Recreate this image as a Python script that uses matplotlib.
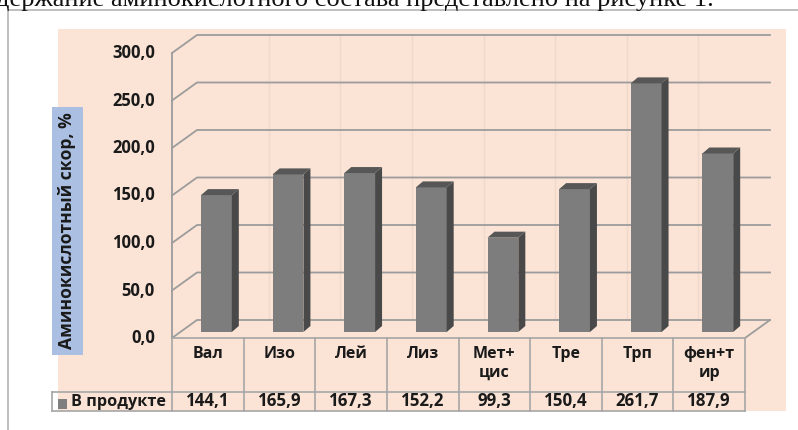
import numpy as np
import matplotlib
matplotlib.use('Agg')
import matplotlib.pyplot as plt
from matplotlib.patches import Rectangle, Polygon

# Data
categories = ['Вал', 'Изо', 'Лей', 'Лиз', 'Мет+\nцис', 'Тре', 'Трп', 'фен+т\nир']
values = [144.1, 165.9, 167.3, 152.2, 99.3, 150.4, 261.7, 187.9]
value_labels = ['144,1', '165,9', '167,3', '152,2', '99,3', '150,4', '261,7', '187,9']
series_name = 'В продукте'
y_ticks = [0, 50, 100, 150, 200, 250, 300]
y_label = 'Аминокислотный скор, %'
top_text = 'держание аминокислотного состава представлено на рисунке 1.'

W, H = 798, 430
fig = plt.figure(figsize=(W / 100, H / 100), dpi=100)

# background layer in pixel coordinates
bg = fig.add_axes([0, 0, 1, 1])
bg.set_xlim(0, W)
bg.set_ylim(H, 0)
bg.axis('off')
bg.plot([8, W], [10, 10], color='#b4b4b4', lw=1.2)
bg.plot([8, 8], [10, H], color='#b4b4b4', lw=1.2)
bg.add_patch(Rectangle((58, 29), 728, 382, facecolor='#fbe4d6', edgecolor='none'))
bg.add_patch(Rectangle((52, 107), 31, 248, facecolor='#aabfe2', edgecolor='none'))
bg.text(67, 231, y_label, rotation=90, ha='center', va='center',
        fontsize=12.6, fontweight='bold', family='Open Sans', color='#1a1a1a')
bg.text(-4, 6, top_text, ha='left', va='baseline', fontsize=19,
        family='Liberation Serif', color='#111111')

# chart axes = front plane of the 3D plot
x0, x1, yb, yt = 172, 745, 338, 53
ax = fig.add_axes([x0 / W, (H - yb) / H, (x1 - x0) / W, (yb - yt) / H])
n = len(categories)
ax.set_xlim(0, n)
ax.set_ylim(0, 300)
ax.axis('off')

px_x = (x1 - x0) / n          # pixels per category
px_y = (yb - yt) / 300        # pixels per unit
DX = 25 / px_x                 # wall depth in data units
DY = 18 / px_y
grid_c = '#9c9c9c'

# walls / gridlines
for t in y_ticks:
    ax.plot([0, DX, n + DX], [t, t + DY, t + DY], color=grid_c, lw=1.3,
            clip_on=False, zorder=1)
    ax.text(-0.24, t, f'{t:.1f}'.replace('.', ','), ha='right', va='center',
            fontsize=12, fontweight='bold', family='Open Sans', color='#1a1a1a')
ax.plot([0, 0], [0, 300], color=grid_c, lw=1.3, clip_on=False, zorder=1)
ax.plot([n, n + DX], [0, DY], color=grid_c, lw=1.3, clip_on=False, zorder=1)
for i in range(1, n):
    ax.plot([i + DX, i + DX], [DY, 300 + DY], color='#f0d8ca', lw=1,
            clip_on=False, zorder=0.5)

# 3D bars
bw = 0.43
shift = 0.12
base = DY / 3
bdx = 7 / px_x
bdy = 6 / px_y
xc = np.arange(n) + 0.5 + shift
ax.bar(xc, values, width=bw, bottom=base, color='#7d7d7d', edgecolor='none',
       zorder=3, clip_on=False)
for c, v in zip(xc, values):
    l, r, top = c - bw / 2, c + bw / 2, base + v
    ax.add_patch(Polygon([(r, base), (r + bdx, base + bdy), (r + bdx, top + bdy), (r, top)],
                         closed=True, facecolor='#494949', edgecolor='none',
                         zorder=3, clip_on=False))
    ax.add_patch(Polygon([(l, top), (l + bdx, top + bdy), (r + bdx, top + bdy), (r, top)],
                         closed=True, facecolor='#575757', edgecolor='none',
                         zorder=3, clip_on=False))

# data table below the plot
r1 = -(392 - yb) / px_y
r2 = -(411 - yb) / px_y
leg_l = -(x0 - 52) / px_x
tc = '#a6a6a6'
ax.plot([0, n], [0, 0], color=tc, lw=1.2, clip_on=False)
ax.plot([leg_l, n], [r1, r1], color=tc, lw=1.2, clip_on=False)
ax.plot([leg_l, n], [r2, r2], color=tc, lw=1.2, clip_on=False)
ax.plot([leg_l, leg_l], [r1, r2], color=tc, lw=1.2, clip_on=False)
for i in range(n + 1):
    ax.plot([i, i], [0, r2], color=tc, lw=1.2, clip_on=False)
for i, (cat, lab) in enumerate(zip(categories, value_labels)):
    ax.text(i + 0.5, -(346 - yb) / px_y, cat, ha='center', va='top',
            fontsize=11.5, fontweight='bold', family='Open Sans', color='#1a1a1a',
            linespacing=1.25)
    ax.text(i + 0.5, (r1 + r2) / 2, lab, ha='center', va='center',
            fontsize=12.2, fontweight='bold', family='Open Sans', color='#1a1a1a')
ax.add_patch(Rectangle((-(x0 - 58) / px_x, -(409 - yb) / px_y), 9 / px_x, 10 / px_y,
                       facecolor='#7f7f7f', edgecolor='none', clip_on=False))
ax.text(-(x0 - 71) / px_x, (r1 + r2) / 2, series_name, ha='left', va='center',
        fontsize=11.7, fontweight='bold', family='Open Sans', color='#1a1a1a')

fig.savefig('out.png', dpi=100)
